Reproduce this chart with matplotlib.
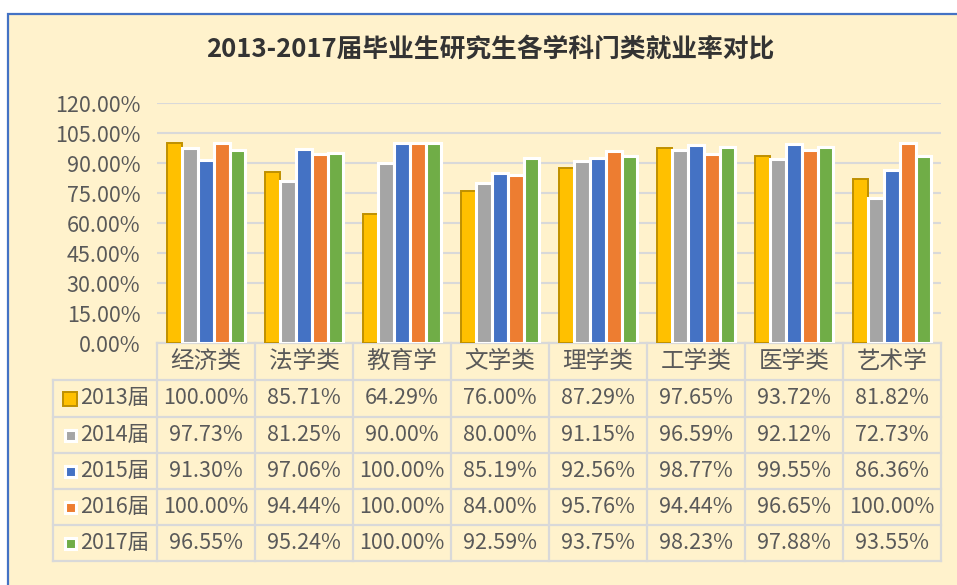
import matplotlib
matplotlib.use("Agg")
import matplotlib.pyplot as plt
import numpy as np
from matplotlib.patches import Rectangle

plt.rcParams["font.family"] = ["Noto Sans CJK SC", "DejaVu Sans"]

title = "2013-2017届毕业生研究生各学科门类就业率对比"
categories = ["经济类", "法学类", "教育学", "文学类", "理学类", "工学类", "医学类", "艺术学"]
years = ["2013届", "2014届", "2015届", "2016届", "2017届"]
rate_2013 = [100.00, 85.71, 64.29, 76.00, 87.29, 97.65, 93.72, 81.82]
rate_2014 = [97.73, 81.25, 90.00, 80.00, 91.15, 96.59, 92.12, 72.73]
rate_2015 = [91.30, 97.06, 100.00, 85.19, 92.56, 98.77, 99.55, 86.36]
rate_2016 = [100.00, 94.44, 100.00, 84.00, 95.76, 94.44, 96.65, 100.00]
rate_2017 = [96.55, 95.24, 100.00, 92.59, 93.75, 98.23, 97.88, 93.55]
series = [rate_2013, rate_2014, rate_2015, rate_2016, rate_2017]
yticks = np.arange(0, 121, 15)

colors = ["#FFC000", "#A5A5A5", "#4472C4", "#ED7D31", "#70AD47"]
edges = ["#BF9000", "white", "white", "white", "white"]
bg = "#FFF2CC"
grid_c = "#D9D9D9"
text_c = "#595959"

W, H = 957, 585
fig = plt.figure(figsize=(W / 100, H / 100), dpi=100)

# pixel-space overlay for frame and data table
ov = fig.add_axes([0, 0, 1, 1], zorder=0)
ov.set_xlim(0, W)
ov.set_ylim(H, 0)
ov.axis("off")
ov.add_patch(Rectangle((8, 14), W + 20, H + 20, facecolor=bg, edgecolor="#4472C4", lw=1.6))

px_left, px_right, px_top, px_bot = 157, 941, 103, 343
ax = fig.add_axes([px_left / W, 1 - px_bot / H, (px_right - px_left) / W, (px_bot - px_top) / H], zorder=1)
ax.set_facecolor("none")

n = len(categories)
x = np.arange(n)
bw = 0.16
for k, vals in enumerate(series):
    ax.bar(x + (k - 2) * bw, vals, width=bw, color=colors[k], edgecolor=edges[k],
           linewidth=1.4 if k == 0 else 2.2, zorder=3 + k)

ax.set_xlim(-0.5, n - 0.5)
ax.set_ylim(0, 120)
ax.set_yticks(yticks)
ax.set_yticklabels([f"{v:.2f}%" for v in yticks], fontsize=15.5, color=text_c)
ax.set_xticks([])
ax.tick_params(axis="y", length=0, pad=12)
ax.grid(axis="y", color=grid_c, lw=1.5, zorder=0)
for s in ax.spines.values():
    s.set_visible(False)

fig.text(490 / W, 1 - 50 / H, title, ha="center", va="center", fontsize=18.5,
         fontweight="bold", color="#333333")

# data table
col_w = (px_right - px_left) / n
row_y = [343, 380, 417, 453, 489, 525, 561]
leg_left = 53
tl = dict(color=grid_c, lw=1.6, zorder=1)
ov.plot([px_left, px_right], [row_y[0], row_y[0]], **tl)
for r in row_y[1:]:
    ov.plot([leg_left, px_right], [r, r], **tl)
ov.plot([leg_left, leg_left], [row_y[1], row_y[-1]], **tl)
for c in range(n + 1):
    ov.plot([px_left + c * col_w] * 2, [row_y[0], row_y[-1]], **tl)

for c, cat in enumerate(categories):
    ov.text(px_left + (c + 0.5) * col_w, (row_y[0] + row_y[1]) / 2, cat, ha="center",
            va="center", fontsize=17, color=text_c)
for k, vals in enumerate(series):
    yc = (row_y[k + 1] + row_y[k + 2]) / 2
    for c, v in enumerate(vals):
        ov.text(px_left + (c + 0.5) * col_w, yc, f"{v:.2f}%", ha="center", va="center",
                fontsize=15.5, color=text_c)
    sz = 14 if k == 0 else 11
    ov.add_patch(Rectangle((70 - sz / 2, yc - sz / 2), sz, sz, facecolor=colors[k],
                           edgecolor=edges[k], lw=1.4 if k == 0 else 2.2, zorder=3))
    ov.text(80, yc, years[k], ha="left", va="center", fontsize=15.5, color=text_c)

fig.savefig("out.png", dpi=100, facecolor="white")
